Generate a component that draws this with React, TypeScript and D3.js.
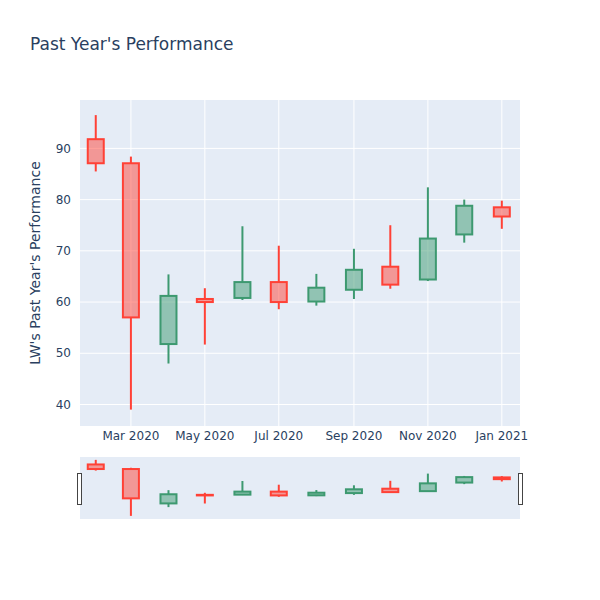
import * as d3 from 'd3';

// monthly candles, Feb 2020 - Jan 2021
const months = [
    '2020-02-01', '2020-03-01', '2020-04-01', '2020-05-01', '2020-06-01', '2020-07-01',
    '2020-08-01', '2020-09-01', '2020-10-01', '2020-11-01', '2020-12-01', '2021-01-01',
];
const openValues = [91.8, 87.1, 51.8, 60.6, 60.8, 63.9, 60.1, 62.4, 66.9, 64.4, 73.2, 78.5];
const highValues = [96.5, 88.4, 65.4, 62.7, 74.8, 71.0, 65.5, 70.4, 75.0, 82.4, 80.0, 79.8];
const lowValues = [85.5, 39.0, 48.0, 51.7, 60.4, 58.6, 59.3, 60.6, 62.6, 64.1, 71.6, 74.3];
const closeValues = [87.1, 57.0, 61.2, 60.0, 63.9, 60.0, 62.8, 66.3, 63.4, 72.4, 78.8, 76.7];

const yTicks = [40, 50, 60, 70, 80, 90];
const xTickDates = ['2020-03-01', '2020-05-01', '2020-07-01', '2020-09-01', '2020-11-01', '2021-01-01'];
const xTickLabels = ['Mar 2020', 'May 2020', 'Jul 2020', 'Sep 2020', 'Nov 2020', 'Jan 2021'];

const UP = '#3D9970';
const DOWN = '#FF4136';
const FONT = '"DejaVu Sans", Verdana, sans-serif';
const TEXT = '#2a3f5f';

const parse = d3.utcParse('%Y-%m-%d');

const Candles = ({ x, y, boxWidth }) => (
    <g>
        {months.map((m, i) => {
            const o = openValues[i];
            const c = closeValues[i];
            const color = c >= o ? UP : DOWN;
            const cx = x(parse(m));
            const top = y(Math.max(o, c));
            const bottom = y(Math.min(o, c));
            return (
                <g key={m}>
                    <line x1={cx} x2={cx} y1={y(highValues[i])} y2={top} stroke={color} strokeWidth={2} />
                    <line x1={cx} x2={cx} y1={bottom} y2={y(lowValues[i])} stroke={color} strokeWidth={2} />
                    <rect
                        x={cx - boxWidth / 2}
                        y={top}
                        width={boxWidth}
                        height={Math.max(bottom - top, 0.5)}
                        fill={color}
                        fillOpacity={0.5}
                        stroke={color}
                        strokeWidth={2}
                    />
                </g>
            );
        })}
    </g>
);

const App = () => {
    const margin = { left: 80, right: 80, top: 100 };
    const plotWidth = 600 - margin.left - margin.right;
    const plotBottom = 426;
    const sliderTop = 457;
    const sliderBottom = 519;

    const x = d3.scaleUtc()
        .domain([parse('2020-01-19'), parse('2021-01-16')])
        .range([margin.left, margin.left + plotWidth]);

    const yDomain = [35.8, 99.45];
    const y = d3.scaleLinear().domain(yDomain).range([plotBottom, margin.top]);
    const ySlider = d3.scaleLinear().domain(yDomain).range([sliderBottom, sliderTop]);

    return (
        <svg width={600} height={600} style={{ position: 'absolute', left: 0, top: 0, background: 'white' }}>
            <text x={30} y={50} fontFamily={FONT} fontSize={17} fill={TEXT}>Past Year's Performance</text>

            {/* main plot */}
            <rect x={margin.left} y={margin.top} width={plotWidth} height={plotBottom - margin.top} fill="#E5ECF6" />
            {yTicks.map(t => (
                <line key={t} x1={margin.left} x2={margin.left + plotWidth} y1={y(t)} y2={y(t)} stroke="white" strokeWidth={1} />
            ))}
            {xTickDates.map(d => (
                <line key={d} x1={x(parse(d))} x2={x(parse(d))} y1={margin.top} y2={plotBottom} stroke="white" strokeWidth={1} />
            ))}
            <Candles x={x} y={y} boxWidth={16} />

            {yTicks.map(t => (
                <text key={t} x={71} y={y(t)} dy="0.35em" textAnchor="end" fontFamily={FONT} fontSize={12} fill={TEXT}>{t}</text>
            ))}
            {xTickDates.map((d, i) => (
                <text key={d} x={x(parse(d))} y={440} textAnchor="middle" fontFamily={FONT} fontSize={12} fill={TEXT}>{xTickLabels[i]}</text>
            ))}
            <text
                transform={`translate(40,${(margin.top + plotBottom) / 2}) rotate(-90)`}
                textAnchor="middle"
                fontFamily={FONT}
                fontSize={14}
                fill={TEXT}
            >LW's Past Year's Performance</text>

            {/* range slider */}
            <rect x={margin.left} y={sliderTop} width={plotWidth} height={sliderBottom - sliderTop} fill="#E5ECF6" />
            <Candles x={x} y={ySlider} boxWidth={16} />
            <rect x={77.5} y={473.5} width={4} height={31} fill="white" stroke="#444" strokeWidth={1} />
            <rect x={518.5} y={473.5} width={4} height={31} fill="white" stroke="#444" strokeWidth={1} />
        </svg>
    );
};

export default App;
